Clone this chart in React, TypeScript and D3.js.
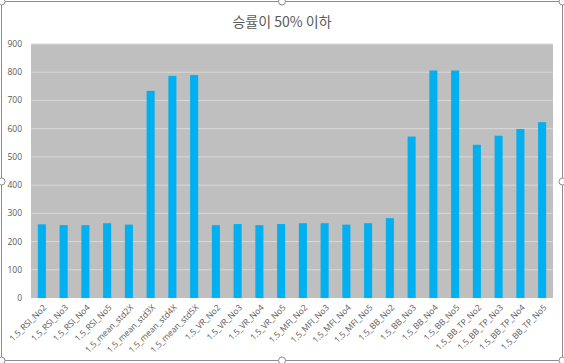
import React, { useEffect, useRef } from "react";
import * as d3 from "d3";

const categories = [
  "1.5_RSI_No2", "1.5_RSI_No3", "1.5_RSI_No4", "1.5_RSI_No5",
  "1.5_mean_std2X", "1.5_mean_std3X", "1.5_mean_std4X", "1.5_mean_std5X",
  "1.5_VR_No2", "1.5_VR_No3", "1.5_VR_No4", "1.5_VR_No5",
  "1.5_MFI_No2", "1.5_MFI_No3", "1.5_MFI_No4", "1.5_MFI_No5",
  "1.5_BB_No2", "1.5_BB_No3", "1.5_BB_No4", "1.5_BB_No5",
  "1.5_BB_TP_No2", "1.5_BB_TP_No3", "1.5_BB_TP_No4", "1.5_BB_TP_No5",
];
const values = [
  261, 258, 258, 265, 260, 734, 787, 790,
  258, 262, 258, 262, 265, 265, 260, 265,
  283, 572, 806, 806, 543, 575, 599, 623,
];
const yTicks = [0, 100, 200, 300, 400, 500, 600, 700, 800, 900];
const title = "승률이 50% 이하";

export default function App() {
  const svgRef = useRef<SVGSVGElement>(null);
  const width = 564;
  const height = 363;
  const marginTop = 44;
  const marginRight = 11;
  const marginBottom = 65;
  const marginLeft = 31;

  useEffect(() => {
    const svg = d3.select(svgRef.current);
    svg.selectAll("*").remove();

    const x = d3
      .scaleBand()
      .domain(categories)
      .range([marginLeft, width - marginRight])
      .paddingInner(0.63)
      .paddingOuter(0.315);

    const y = d3
      .scaleLinear()
      .domain([0, 900])
      .range([height - marginBottom, marginTop]);

    // chart frame (selected-chart look)
    svg
      .append("rect")
      .attr("x", 1.5)
      .attr("y", 1.5)
      .attr("width", width - 3)
      .attr("height", height - 4)
      .attr("fill", "#ffffff")
      .attr("stroke", "#8c8c8c")
      .attr("stroke-width", 1);

    // plot background
    svg
      .append("rect")
      .attr("x", marginLeft)
      .attr("y", marginTop)
      .attr("width", width - marginLeft - marginRight)
      .attr("height", height - marginTop - marginBottom)
      .attr("fill", "#bfbfbf");

    // gridlines
    svg
      .append("g")
      .selectAll("line")
      .data(yTicks.filter((d) => d > 0))
      .join("line")
      .attr("x1", marginLeft)
      .attr("x2", width - marginRight)
      .attr("y1", (d) => y(d))
      .attr("y2", (d) => y(d))
      .attr("stroke", "#d9d9d9")
      .attr("stroke-width", 1);

    // y axis labels
    svg
      .append("g")
      .selectAll("text")
      .data(yTicks)
      .join("text")
      .attr("x", marginLeft - 9)
      .attr("y", (d) => y(d))
      .attr("dy", "0.35em")
      .attr("text-anchor", "end")
      .attr("font-family", "Open Sans, sans-serif")
      .attr("font-size", 8.5)
      .attr("fill", "#595959")
      .text((d) => d);

    // bars
    svg
      .append("g")
      .selectAll("rect")
      .data(values)
      .join("rect")
      .attr("x", (d, i) => x(categories[i])!)
      .attr("y", (d) => y(d))
      .attr("width", x.bandwidth())
      .attr("height", (d) => y(0) - y(d))
      .attr("fill", "#00b0f0");

    // x axis labels
    svg
      .append("g")
      .selectAll("text")
      .data(categories)
      .join("text")
      .attr("transform", (d) => {
        const cx = x(d)! + x.bandwidth() / 2 + 3;
        const cy = y(0) + 8;
        return `translate(${cx},${cy}) rotate(-45)`;
      })
      .attr("text-anchor", "end")
      .attr("dy", "0.35em")
      .attr("font-family", "Open Sans, sans-serif")
      .attr("font-size", 8.5)
      .attr("fill", "#595959")
      .text((d) => d);

    // title
    svg
      .append("text")
      .attr("x", width / 2)
      .attr("y", 22)
      .attr("dy", "0.35em")
      .attr("text-anchor", "middle")
      .attr("font-family", "Noto Sans CJK KR, sans-serif")
      .attr("font-size", 14)
      .attr("fill", "#595959")
      .text(title);

    // selection handles
    const handles = [
      [1.5, 1.5], [width / 2, 1.5], [width - 1.5, 1.5],
      [1.5, height / 2], [width - 1.5, height / 2],
      [1.5, height - 2.5], [width / 2, height - 2.5], [width - 1.5, height - 2.5],
    ];
    svg
      .append("g")
      .selectAll("circle")
      .data(handles)
      .join("circle")
      .attr("cx", (d) => d[0])
      .attr("cy", (d) => d[1])
      .attr("r", 3.5)
      .attr("fill", "#ffffff")
      .attr("stroke", "#8c8c8c");
  }, []);

  return (
    <div style={{ position: "absolute", left: 0, top: 0 }}>
      <svg ref={svgRef} width={width} height={height} style={{ display: "block" }} />
    </div>
  );
}
